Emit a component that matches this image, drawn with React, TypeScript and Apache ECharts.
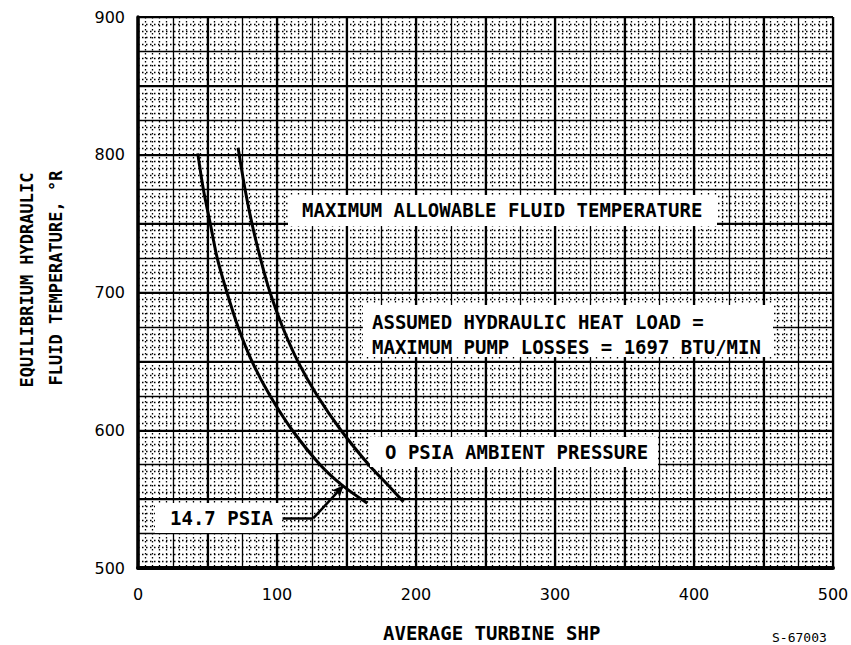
import React, { useEffect, useRef } from "react";
import * as echarts from "echarts";

// ---- data ----
const xMin = 0;
const xMax = 500;
const yMin = 500;
const yMax = 900;
const labelStep = 100;
const majorStep = 50;
const midStep = 25;
const minorDivisions = 5;

// 14.7 PSIA curve [SHP, °R]
const curve147Psia: number[][] = [
  [43, 801], [47, 775], [52, 750], [57, 725], [64, 700], [72, 675],
  [82, 650], [95, 625], [111, 600], [131, 575], [147, 560], [165, 547],
];
// 0 PSIA ambient pressure curve [SHP, °R]
const curve0Psia: number[][] = [
  [72, 805], [77, 775], [82, 750], [88, 725], [95, 700], [104, 675],
  [115, 650], [129, 625], [146, 600], [166, 575], [180, 560], [191, 548],
];
// leader from "14.7 PSIA" label to its curve
const leaderFlat: number[][] = [[104, 536], [126, 536]];
const leaderArrow: number[][] = [[126, 536], [148, 560]];

const xTitle = "AVERAGE TURBINE SHP";
const yTitle1 = "EQUILIBRIUM HYDRAULIC";
const yTitle2 = "FLUID TEMPERATURE, °R";
const noteMaxTemp = "MAXIMUM ALLOWABLE FLUID TEMPERATURE";
const noteLoad1 = "ASSUMED HYDRAULIC HEAT LOAD =";
const noteLoad2 = "MAXIMUM PUMP LOSSES = 1697 BTU/MIN";
const note0Psia = "O PSIA AMBIENT PRESSURE";
const note147 = "14.7 PSIA";
const figId = "S-67003";

const MONO = "DejaVu Sans Mono";

function label(text: string, x: number, y: number, size = 19, extra: any = {}) {
  return {
    type: "text",
    x,
    y,
    z: 110,
    silent: true,
    style: {
      text,
      fill: "#000",
      fontFamily: MONO,
      fontWeight: "bold",
      fontSize: size,
      textAlign: "left",
      textVerticalAlign: "middle",
      align: "left",
      verticalAlign: "middle",
    },
    ...extra,
  };
}

function box(x: number, y: number, w: number, h: number) {
  return {
    type: "rect",
    z: 100,
    silent: true,
    shape: { x, y, width: w, height: h },
    style: { fill: "#fff" },
  };
}

function hiddenAxis(position: string, interval: number, width: number, minor: boolean, min: number, max: number) {
  return {
    type: "value",
    position,
    min,
    max,
    interval,
    axisLine: { show: false },
    axisTick: { show: false },
    axisLabel: { show: false },
    splitLine: { show: true, lineStyle: { color: "#000", width } },
    minorTick: { show: false, splitNumber: minorDivisions },
    minorSplitLine: {
      show: minor,
      lineStyle: { color: "#000", width: 1.3, type: [1.5, 2.5] },
    },
  };
}

export default function App() {
  const ref = useRef<HTMLDivElement>(null);

  useEffect(() => {
    document.body.style.margin = "0";
    if (!ref.current) return;
    const chart = echarts.init(ref.current, null, { renderer: "svg" });

    const labelFont = {
      fontFamily: "DejaVu Sans",
      fontSize: 16,
      color: "#000",
    };

    chart.setOption({
      animation: false,
      backgroundColor: "#fff",
      grid: {
        left: 138,
        top: 17,
        width: 695,
        height: 551,
        containLabel: false,
        outerBoundsMode: "none",
      },
      xAxis: [
        hiddenAxis("bottom", midStep, 1.3, true, xMin, xMax),
        hiddenAxis("bottom", majorStep, 2.2, false, xMin, xMax),
        {
          type: "value",
          position: "bottom",
          min: xMin,
          max: xMax,
          interval: labelStep,
          axisLine: { show: true, onZero: false, lineStyle: { color: "#000", width: 4 } },
          axisTick: { show: false },
          axisLabel: { ...labelFont, margin: 18 },
          splitLine: { show: false },
        },
      ],
      yAxis: [
        hiddenAxis("left", midStep, 1.3, true, yMin, yMax),
        hiddenAxis("left", majorStep, 2.2, false, yMin, yMax),
        {
          type: "value",
          position: "left",
          min: yMin,
          max: yMax,
          interval: labelStep,
          axisLine: { show: true, onZero: false, lineStyle: { color: "#000", width: 3.5 } },
          axisTick: { show: false },
          axisLabel: { ...labelFont, margin: 13 },
          splitLine: { show: false },
        },
      ],
      series: [
        {
          type: "line",
          xAxisIndex: 2,
          yAxisIndex: 2,
          data: curve147Psia,
          smooth: 0.3,
          showSymbol: false,
          symbol: "none",
          silent: true,
          lineStyle: { color: "#000", width: 3 },
          z: 5,
        },
        {
          type: "line",
          xAxisIndex: 2,
          yAxisIndex: 2,
          data: curve0Psia,
          smooth: 0.3,
          showSymbol: false,
          symbol: "none",
          silent: true,
          lineStyle: { color: "#000", width: 3 },
          z: 5,
        },
        {
          type: "line",
          xAxisIndex: 2,
          yAxisIndex: 2,
          data: leaderFlat,
          showSymbol: false,
          symbol: "none",
          silent: true,
          lineStyle: { color: "#000", width: 2.5 },
          z: 5,
          markLine: {
            silent: true,
            symbol: ["none", "arrow"],
            symbolSize: [8, 12],
            label: { show: false },
            lineStyle: { color: "#000", width: 2.5, type: "solid" },
            data: [[{ coord: leaderArrow[0] }, { coord: leaderArrow[1] }]],
          },
        },
      ],
      graphic: [
        box(288, 195, 429, 31),
        label(noteMaxTemp, 302, 210),
        box(363, 305, 410, 52),
        label(noteLoad1, 372, 322),
        label(noteLoad2, 372, 347),
        box(370, 437, 288, 30),
        label(note0Psia, 385, 452),
        box(155, 503, 127, 30),
        label(note147, 170, 518),
        label(xTitle, 383, 633),
        {
          type: "text",
          x: 772,
          y: 637,
          silent: true,
          style: {
            text: figId,
            fill: "#000",
            fontFamily: MONO,
            fontSize: 13,
            textAlign: "left",
            textVerticalAlign: "middle",
            align: "left",
            verticalAlign: "middle",
          },
        },
        {
          type: "text",
          x: 27,
          y: 280,
          rotation: Math.PI / 2,
          silent: true,
          style: {
            text: yTitle1,
            fill: "#000",
            fontFamily: MONO,
            fontWeight: "bold",
            fontSize: 17,
            textAlign: "center",
            textVerticalAlign: "middle",
            align: "center",
            verticalAlign: "middle",
          },
        },
        {
          type: "text",
          x: 56,
          y: 278,
          rotation: Math.PI / 2,
          silent: true,
          style: {
            text: yTitle2,
            fill: "#000",
            fontFamily: MONO,
            fontWeight: "bold",
            fontSize: 17,
            textAlign: "center",
            textVerticalAlign: "middle",
            align: "center",
            verticalAlign: "middle",
          },
        },
      ],
    });

    return () => chart.dispose();
  }, []);

  return <div ref={ref} style={{ width: 851, height: 645 }} />;
}
